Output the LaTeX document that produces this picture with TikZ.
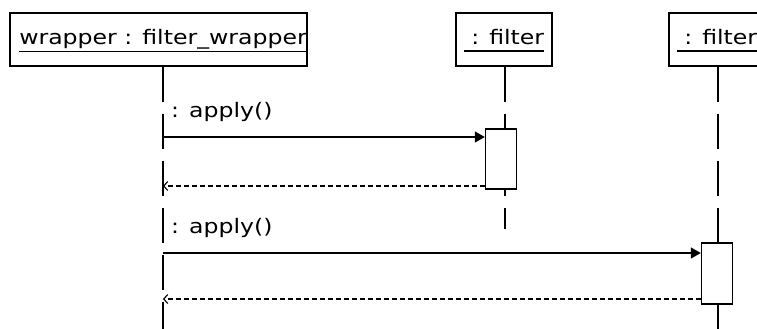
\documentclass[tikz,border=0pt]{standalone}
\usepackage{fontspec}
\newfontfamily\umlfont[FakeStretch=1.18]{DejaVu Sans}
\usetikzlibrary{arrows.meta}

\tikzset{
  x=1pt, y=-1pt,
  objbox/.style={draw, line width=1.4pt, minimum height=53pt, inner sep=0pt},
  objname/.style={font=\umlfont\fontsize{20}{24}\selectfont, inner sep=0pt, anchor=base},
  nameline/.style={line width=1.4pt},
  lifeline/.style={line width=1.4pt, dash pattern=on 35pt off 12pt},
  activation/.style={draw, fill=white, line width=1.4pt, inner sep=0pt, minimum width=31pt},
  call/.style={line width=1.3pt, -{Triangle[length=10pt,width=11pt]}},
  reply/.style={line width=1.1pt, dash pattern=on 5pt off 3pt, -{Straight Barb[length=4pt,width=9pt,line width=1.1pt]}},
  msg/.style={font=\umlfont\fontsize{20}{24}\selectfont, inner sep=0pt, anchor=base west},
}

\begin{document}
\begin{tikzpicture}
  \useasboundingbox (0,0) rectangle (757,329);
  \clip (0,0) rectangle (757,329);

  % object boxes
  \node[objbox, minimum width=297pt] (wrapper) at (158.5,39.5) {};
  \node[objbox, minimum width=96pt] (filterA) at (504,39.5) {};
  \node[objbox, minimum width=96pt] (filterB) at (717,39.5) {};

  % object names (underlined)
  \node[objname] (wrapperName) at (163,45) {\vphantom{p}wrapper : filter\_wrapper};
  \node[objname] (filterAName) at (504,45) {\vphantom{p}\ : filter};
  \node[objname] (filterBName) at (717,45) {\vphantom{p}\ : filter};
  \foreach \n in {wrapperName, filterAName, filterBName}
    \draw[nameline] ([yshift=-1.5pt]\n.south west) -- ([yshift=-1.5pt]\n.south east);

  % lifeline ends
  \coordinate (wrapperEnd) at (163,335);
  \coordinate (filterAEnd) at (505,229);
  \coordinate (filterBEnd) at (718,335);

  \draw[lifeline] (wrapperEnd |- wrapper.south) -- (wrapperEnd);
  \draw[lifeline] (filterAEnd |- filterA.south) -- (filterAEnd);
  \draw[lifeline] (filterBEnd |- filterB.south) -- (filterBEnd);

  % activations
  \node[activation, minimum height=60pt] (actA) at (501,159) {};
  \node[activation, minimum height=61pt] (actB) at (717,273.5) {};

  % messages
  \coordinate (callA) at (163,137);
  \coordinate (replyA) at (163,186);
  \coordinate (callB) at (163,253);
  \coordinate (replyB) at (163,299);

  \node[msg] (msgA) at (171,117) {: apply()};
  \draw[call] (callA) -- (callA -| actA.west);
  \draw[reply] (replyA -| actA.west) -- (replyA);

  \node[msg] (msgB) at (171,233) {: apply()};
  \draw[call] (callB) -- (callB -| actB.west);
  \draw[reply] (replyB -| actB.west) -- (replyB);
\end{tikzpicture}
\end{document}
